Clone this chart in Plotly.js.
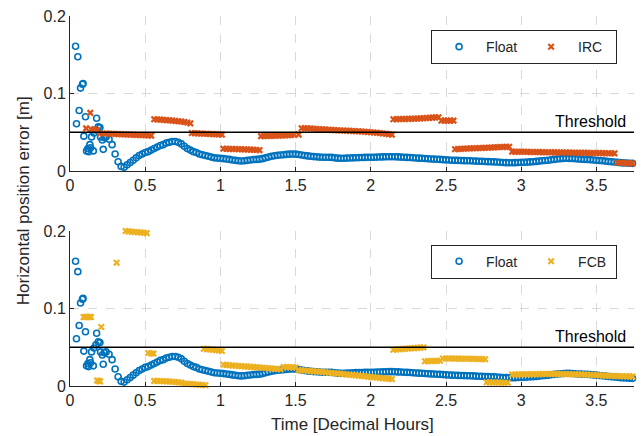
<!DOCTYPE html>
<html>
<head>
<meta charset="utf-8">
<script src="https://cdn.plot.ly/plotly-3.0.1.min.js"></script>
<style>html,body{margin:0;padding:0;background:#fff;}#chart{width:643px;height:436px;}</style>
</head>
<body>
<div id="chart"></div>
<script>
// ---- Data ----
const THRESHOLD = 0.05;
const xTickVals = [0, 0.5, 1, 1.5, 2, 2.5, 3, 3.5];
const yTickVals = [0, 0.1, 0.2];

// Float solution (same in both panels): [time h, error m]
const floatPoints = [
 [0.037,0.161],[0.043,0.061],[0.052,0.1475],[0.061,0.078],[0.070,0.107],[0.083,0.112],[0.087,0.113],
 [0.092,0.045],[0.103,0.070],[0.110,0.026],[0.119,0.029],[0.124,0.025],[0.132,0.034],[0.137,0.030],
 [0.143,0.044],[0.155,0.026],[0.159,0.049],[0.172,0.053],[0.177,0.068],[0.188,0.057],[0.199,0.056],
 [0.203,0.044],[0.215,0.040],[0.221,0.028],[0.228,0.043],
 [0.24,0.044],[0.26,0.041],[0.28,0.034],[0.30,0.022],[0.32,0.012],[0.34,0.006],[0.36,0.005],[0.38,0.008],
 [0.40,0.011],[0.42,0.014],[0.44,0.017],[0.46,0.020],[0.48,0.022],[0.50,0.024],[0.52,0.025],[0.54,0.027],
 [0.56,0.029],[0.58,0.031],[0.60,0.033],[0.62,0.034],[0.64,0.036],[0.66,0.037],[0.68,0.038],[0.70,0.038],
 [0.72,0.037],[0.74,0.035],[0.76,0.032],[0.78,0.029],[0.80,0.027],[0.82,0.025],[0.84,0.024],[0.86,0.022],
 [0.88,0.021],[0.90,0.020],[0.92,0.019],[0.94,0.018],[0.96,0.017],[0.98,0.0167],[1.00,0.0164],[1.02,0.016],
 [1.04,0.0155],[1.06,0.015],[1.08,0.0143],[1.10,0.0138],[1.12,0.0133],[1.14,0.013],[1.16,0.0132],[1.18,0.0138],
 [1.20,0.0142],[1.22,0.0148],[1.24,0.015],[1.26,0.0153],[1.28,0.016],[1.30,0.017],[1.32,0.018],[1.34,0.019],
 [1.36,0.0198],[1.38,0.0203],[1.40,0.0207],[1.42,0.021],[1.44,0.0215],[1.46,0.0218],[1.48,0.022],[1.50,0.0218],
 [1.52,0.0213],[1.54,0.0207],[1.56,0.020],[1.58,0.0195],[1.60,0.019],[1.62,0.0186],[1.64,0.0183],[1.66,0.018],
 [1.68,0.0178],[1.70,0.0177],[1.72,0.0177],[1.74,0.0176],[1.76,0.017],[1.78,0.0166],[1.80,0.0164],[1.82,0.0165],
 [1.84,0.0167],[1.86,0.0168],[1.88,0.017],[1.90,0.0172],[1.92,0.0173],[1.94,0.0175],[1.96,0.0176],[1.98,0.0177],
 [2.00,0.0177],[2.02,0.0178],[2.04,0.018],[2.06,0.0181],[2.08,0.0182],[2.10,0.0184],[2.12,0.0185],[2.14,0.0185],
 [2.16,0.0184],[2.18,0.0182],[2.20,0.018],[2.22,0.0178],[2.24,0.0176],[2.26,0.0174],[2.28,0.0171],[2.30,0.0168],
 [2.32,0.0166],[2.34,0.0164],[2.36,0.0161],[2.38,0.0158],[2.40,0.0156],[2.42,0.0154],[2.44,0.0152],[2.46,0.015],
 [2.48,0.0147],[2.50,0.0144],[2.52,0.0142],[2.54,0.014],[2.56,0.0138],[2.58,0.0137],[2.60,0.0136],[2.62,0.0134],
 [2.64,0.0133],[2.66,0.0132],[2.68,0.013],[2.70,0.0128],[2.72,0.0126],[2.74,0.0125],[2.76,0.0123],[2.78,0.0121],
 [2.80,0.012],[2.82,0.0118],[2.84,0.0116],[2.86,0.0113],[2.88,0.011],[2.90,0.0108],[2.92,0.0107],[2.94,0.0107],
 [2.96,0.0108],[2.98,0.011],[3.00,0.0112],[3.02,0.0113],[3.04,0.0115],[3.06,0.0118],[3.08,0.012],[3.10,0.0124],
 [3.12,0.0128],[3.14,0.0132],[3.16,0.0136],[3.18,0.014],[3.20,0.0145],[3.22,0.015],[3.24,0.0155],[3.26,0.0159],
 [3.28,0.0162],[3.30,0.0164],[3.32,0.0163],[3.34,0.0161],[3.36,0.0158],[3.38,0.0155],[3.40,0.0153],[3.42,0.0151],
 [3.44,0.015],[3.46,0.0147],[3.48,0.0143],[3.50,0.014],[3.52,0.0136],[3.54,0.0132],[3.56,0.0128],[3.58,0.0123],
 [3.60,0.012],[3.62,0.0116],[3.64,0.0112],[3.66,0.0108],[3.68,0.0105],[3.70,0.0103],[3.72,0.0101],[3.74,0.0099]
];

// IRC fixed solution (top panel)
const ircPoints = [
 [0.107,0.055],[0.135,0.075],
 [0.14,0.054],[0.16,0.054],[0.18,0.053],
 [0.20,0.0487],[0.22,0.0485],[0.24,0.0483],[0.26,0.0482],[0.28,0.048],[0.30,0.0478],[0.32,0.0476],[0.34,0.0475],
 [0.36,0.0473],[0.38,0.0472],[0.40,0.047],[0.42,0.0468],[0.44,0.0466],[0.46,0.0465],[0.48,0.0463],[0.50,0.0461],
 [0.52,0.0459],[0.54,0.0457],
 [0.56,0.0667],[0.58,0.0665],[0.60,0.0663],[0.62,0.066],[0.64,0.0657],[0.66,0.0654],[0.68,0.065],[0.70,0.0647],
 [0.72,0.0643],[0.74,0.0638],[0.76,0.0632],[0.78,0.0625],[0.80,0.0615],
 [0.81,0.049],[0.83,0.0488],[0.85,0.0486],[0.87,0.0484],[0.89,0.0482],[0.91,0.048],[0.93,0.0478],[0.95,0.0476],
 [0.97,0.0474],[0.99,0.0472],[1.01,0.047],
 [1.02,0.0288],[1.04,0.0287],[1.06,0.0285],[1.08,0.0284],[1.10,0.0283],[1.12,0.0281],[1.14,0.028],[1.16,0.0279],
 [1.18,0.0277],[1.20,0.0276],[1.22,0.0274],[1.24,0.0272],[1.26,0.027],
 [1.27,0.045],[1.29,0.0451],[1.31,0.0452],[1.33,0.0453],[1.35,0.0455],[1.37,0.0456],[1.39,0.0457],[1.41,0.0458],
 [1.43,0.046],[1.45,0.0462],[1.47,0.0464],[1.49,0.0466],[1.52,0.047],
 [1.54,0.0552],[1.56,0.0551],[1.58,0.055],[1.60,0.0548],[1.62,0.0545],[1.64,0.0542],[1.66,0.054],[1.68,0.0537],
 [1.70,0.0535],[1.72,0.0533],[1.74,0.053],[1.76,0.0528],[1.78,0.0526],[1.80,0.0524],[1.82,0.0522],[1.84,0.052],
 [1.86,0.0518],[1.88,0.0516],[1.90,0.0514],[1.92,0.0512],[1.94,0.051],[1.96,0.0507],[1.98,0.0504],[2.00,0.0501],
 [2.02,0.0498],[2.04,0.0494],[2.06,0.049],[2.08,0.0485],[2.10,0.048],[2.12,0.0475],[2.14,0.047],
 [2.15,0.0668],[2.17,0.0669],[2.19,0.067],[2.21,0.0671],[2.23,0.0672],[2.25,0.0673],[2.27,0.0674],[2.29,0.0675],
 [2.31,0.0677],[2.33,0.0679],[2.35,0.0681],[2.37,0.0683],[2.39,0.0686],[2.41,0.0689],[2.43,0.0692],[2.45,0.0695],
 [2.47,0.065],[2.49,0.065],[2.51,0.065],[2.53,0.065],[2.55,0.065],
 [2.56,0.0282],[2.58,0.0284],[2.60,0.0286],[2.62,0.0288],[2.64,0.029],[2.66,0.0292],[2.68,0.0294],[2.70,0.0295],
 [2.72,0.0297],[2.74,0.0298],[2.76,0.03],[2.78,0.0301],[2.80,0.0303],[2.82,0.0305],[2.84,0.0307],[2.86,0.0309],
 [2.88,0.031],[2.90,0.0312],[2.92,0.0314],
 [2.94,0.025],[2.96,0.0249],[2.98,0.0249],[3.00,0.0248],[3.02,0.0248],[3.04,0.0247],[3.06,0.0246],[3.08,0.0246],
 [3.10,0.0245],[3.12,0.0244],[3.14,0.0244],[3.16,0.0243],[3.18,0.0242],[3.20,0.0242],[3.22,0.0241],[3.24,0.0241],
 [3.26,0.024],[3.28,0.0239],[3.30,0.0239],[3.32,0.0238],[3.34,0.0237],[3.36,0.0237],[3.38,0.0236],[3.40,0.0235],
 [3.42,0.0235],[3.44,0.0234],[3.46,0.0233],[3.48,0.0233],[3.50,0.0232],[3.52,0.0232],[3.54,0.0231],[3.56,0.023],
 [3.58,0.023],[3.60,0.0229],[3.62,0.0228],
 [3.64,0.0107],[3.66,0.0106],[3.68,0.0104],[3.70,0.0102],[3.72,0.0101],[3.74,0.0099]
];

// FCB fixed solution (bottom panel)
const fcbPoints = [
 [0.09,0.089],[0.10,0.089],[0.11,0.089],[0.12,0.089],[0.13,0.089],[0.14,0.089],
 [0.18,0.007],[0.19,0.0065],[0.20,0.006],
 [0.208,0.076],[0.31,0.159],
 [0.37,0.2],[0.39,0.1995],[0.41,0.199],[0.43,0.1987],[0.45,0.1983],[0.47,0.198],[0.49,0.1977],[0.51,0.1972],
 [0.52,0.0425],[0.54,0.042],[0.555,0.0418],
 [0.56,0.0066],[0.58,0.0065],[0.60,0.0064],[0.62,0.0062],[0.64,0.006],[0.66,0.0058],[0.68,0.0055],[0.70,0.0052],
 [0.72,0.0048],[0.74,0.0045],
 [0.76,0.003],[0.78,0.0028],[0.80,0.0026],[0.82,0.0023],[0.84,0.002],[0.86,0.0017],[0.88,0.0013],[0.90,0.001],
 [0.89,0.048],[0.91,0.0476],[0.93,0.0472],[0.95,0.0468],[0.97,0.0463],[0.99,0.0458],[1.01,0.0452],
 [1.02,0.0274],[1.04,0.0271],[1.06,0.0268],[1.08,0.0265],[1.10,0.0262],[1.12,0.0259],[1.14,0.0256],[1.16,0.0253],
 [1.18,0.025],[1.20,0.0247],[1.22,0.0244],[1.24,0.0241],[1.26,0.0238],[1.28,0.0235],[1.30,0.0232],[1.32,0.0229],
 [1.34,0.0226],[1.36,0.0223],[1.38,0.022],[1.40,0.0217],
 [1.42,0.0245],[1.44,0.0244],[1.46,0.0242],[1.48,0.024],[1.50,0.0238],
 [1.52,0.0205],[1.54,0.0202],[1.56,0.0199],[1.58,0.0196],[1.60,0.0192],[1.62,0.0189],[1.64,0.0186],[1.66,0.0183],
 [1.68,0.018],[1.70,0.0176],[1.72,0.0172],[1.74,0.0168],[1.76,0.0165],[1.78,0.0161],[1.80,0.0157],[1.82,0.0153],
 [1.84,0.0149],[1.86,0.0145],[1.88,0.0141],[1.90,0.0137],[1.92,0.0133],[1.94,0.0129],[1.96,0.0125],[1.98,0.0121],
 [2.00,0.0117],[2.02,0.0113],[2.04,0.0109],[2.06,0.0105],[2.08,0.0101],[2.10,0.0097],[2.12,0.0093],[2.14,0.0089],
 [2.15,0.0468],[2.17,0.0471],[2.19,0.0474],[2.21,0.0477],[2.23,0.048],[2.25,0.0483],[2.27,0.0486],[2.29,0.0489],
 [2.31,0.0492],[2.33,0.0495],[2.35,0.0498],
 [2.36,0.032],[2.38,0.0321],[2.40,0.0322],[2.42,0.0323],[2.44,0.0324],[2.46,0.0325],
 [2.48,0.0355],[2.50,0.0355],[2.52,0.0354],[2.54,0.0354],[2.56,0.0353],[2.58,0.0353],[2.60,0.0352],[2.62,0.0352],
 [2.64,0.0351],[2.66,0.0351],[2.68,0.035],[2.70,0.0349],[2.72,0.0348],[2.74,0.0347],[2.76,0.0346],
 [2.77,0.0048],[2.79,0.0047],[2.81,0.0046],[2.83,0.0045],[2.85,0.0044],[2.87,0.0043],[2.89,0.0042],[2.91,0.0041],
 [2.94,0.0148],[2.96,0.0149],[2.98,0.015],[3.00,0.015],[3.02,0.0151],[3.04,0.0151],[3.06,0.0152],[3.08,0.0152],
 [3.10,0.0153],[3.12,0.0153],[3.14,0.0154],[3.16,0.0154],[3.18,0.0155],[3.20,0.0155],[3.22,0.0155],[3.24,0.0155],
 [3.26,0.0155],[3.28,0.0155],[3.30,0.0154],[3.32,0.0153],[3.34,0.0152],[3.36,0.0151],[3.38,0.015],[3.40,0.0149],
 [3.42,0.0148],[3.44,0.0146],[3.46,0.0144],[3.48,0.0142],[3.50,0.014],[3.52,0.0138],[3.54,0.0136],[3.56,0.0134],
 [3.58,0.0132],[3.60,0.013],[3.62,0.0129],[3.64,0.0128],[3.66,0.0127],[3.68,0.0126],[3.70,0.0125],[3.72,0.0124],
 [3.74,0.0123]
];

// ---- Styles ----
const C_FLOAT = '#0072BD', C_IRC = '#D95319', C_FCB = '#EDB120';
const AX = '#262626';
const FONT = 'Liberation Sans, Arial, Helvetica, sans-serif';

const xs = p => p.map(d => d[0]);
const ys = p => p.map(d => d[1]);

const floatMarker = {symbol:'circle-open', size:6, color:C_FLOAT, line:{width:1.6, color:C_FLOAT}};
const xMarker = c => ({symbol:'x-thin', size:5.5, color:c, line:{width:2.2, color:c}});

const traces = [
  {x:xs(floatPoints), y:ys(floatPoints), xaxis:'x', yaxis:'y', type:'scatter', mode:'markers',
   name:'Float', marker:floatMarker, cliponaxis:false, legend:'legend'},
  {x:xs(ircPoints), y:ys(ircPoints), xaxis:'x', yaxis:'y', type:'scatter', mode:'markers',
   name:'IRC', marker:xMarker(C_IRC), cliponaxis:false, legend:'legend'},
  {x:xs(floatPoints), y:ys(floatPoints), xaxis:'x2', yaxis:'y2', type:'scatter', mode:'markers',
   name:'Float', marker:floatMarker, cliponaxis:false, legend:'legend2'},
  {x:xs(fcbPoints), y:ys(fcbPoints), xaxis:'x2', yaxis:'y2', type:'scatter', mode:'markers',
   name:'FCB', marker:xMarker(C_FCB), cliponaxis:false, legend:'legend2'}
];

const xAxisBase = {
  range:[0,3.75], tickvals:xTickVals, showgrid:true, gridcolor:'#d9d9d9', griddash:'dash', gridwidth:1,
  showline:true, linecolor:AX, linewidth:1, ticks:'inside', ticklen:4, tickcolor:AX, zeroline:false,
  tickfont:{size:16, color:AX, family:FONT}
};
const yAxisBase = {
  range:[0,0.2], tickvals:yTickVals, showgrid:true, gridcolor:'#d9d9d9', griddash:'dash', gridwidth:1,
  showline:true, linecolor:AX, linewidth:1, ticks:'inside', ticklen:4, tickcolor:AX, zeroline:false,
  tickfont:{size:16, color:AX, family:FONT}
};

const legendBase = {
  orientation:'h', xanchor:'right', yanchor:'top', bgcolor:'white', bordercolor:AX, borderwidth:1,
  font:{size:14, color:AX, family:FONT}, itemwidth:44, entrywidth:33, itemclick:false
};

const layout = {
  width:643, height:436,
  margin:{l:70, r:9, t:16, b:50},
  paper_bgcolor:'white', plot_bgcolor:'white',
  font:{family:FONT, size:16, color:AX},
  showlegend:true,
  xaxis:Object.assign({}, xAxisBase, {anchor:'y', domain:[0,1]}),
  yaxis:Object.assign({}, yAxisBase, {anchor:'x', domain:[0.581,1]}),
  xaxis2:Object.assign({}, xAxisBase, {anchor:'y2', domain:[0,1]}),
  yaxis2:Object.assign({}, yAxisBase, {anchor:'x2', domain:[0,0.419]}),
  legend:Object.assign({}, legendBase, {x:0.97, y:0.962}),
  legend2:Object.assign({}, legendBase, {x:0.97, y:0.382}),
  shapes:[
    {type:'line', xref:'x domain', yref:'y', x0:0, x1:1, y0:THRESHOLD, y1:THRESHOLD, line:{color:'black', width:1.6}, layer:'above'},
    {type:'line', xref:'x2 domain', yref:'y2', x0:0, x1:1, y0:THRESHOLD, y1:THRESHOLD, line:{color:'black', width:1.6}, layer:'above'}
  ],
  annotations:[
    {text:'Threshold', xref:'paper', yref:'y', x:0.99, y:THRESHOLD, xanchor:'right', yanchor:'bottom', showarrow:false,
     font:{size:16, color:'black', family:FONT}},
    {text:'Threshold', xref:'paper', yref:'y2', x:0.99, y:THRESHOLD, xanchor:'right', yanchor:'bottom', showarrow:false,
     font:{size:16, color:'black', family:FONT}},
    {text:'Horizontal position error [m]', xref:'paper', yref:'paper', x:-0.0824, y:0.501, xanchor:'center', yanchor:'middle',
     textangle:-90, showarrow:false, font:{size:17, color:AX, family:FONT}},
    {text:'Time [Decimal Hours]', xref:'paper', yref:'paper', x:0.5, y:-0.105, xanchor:'center', yanchor:'middle',
     showarrow:false, font:{size:17, color:AX, family:FONT}}
  ]
};

Plotly.newPlot('chart', traces, layout, {staticPlot:true, displayModeBar:false});
</script>
</body>
</html>
